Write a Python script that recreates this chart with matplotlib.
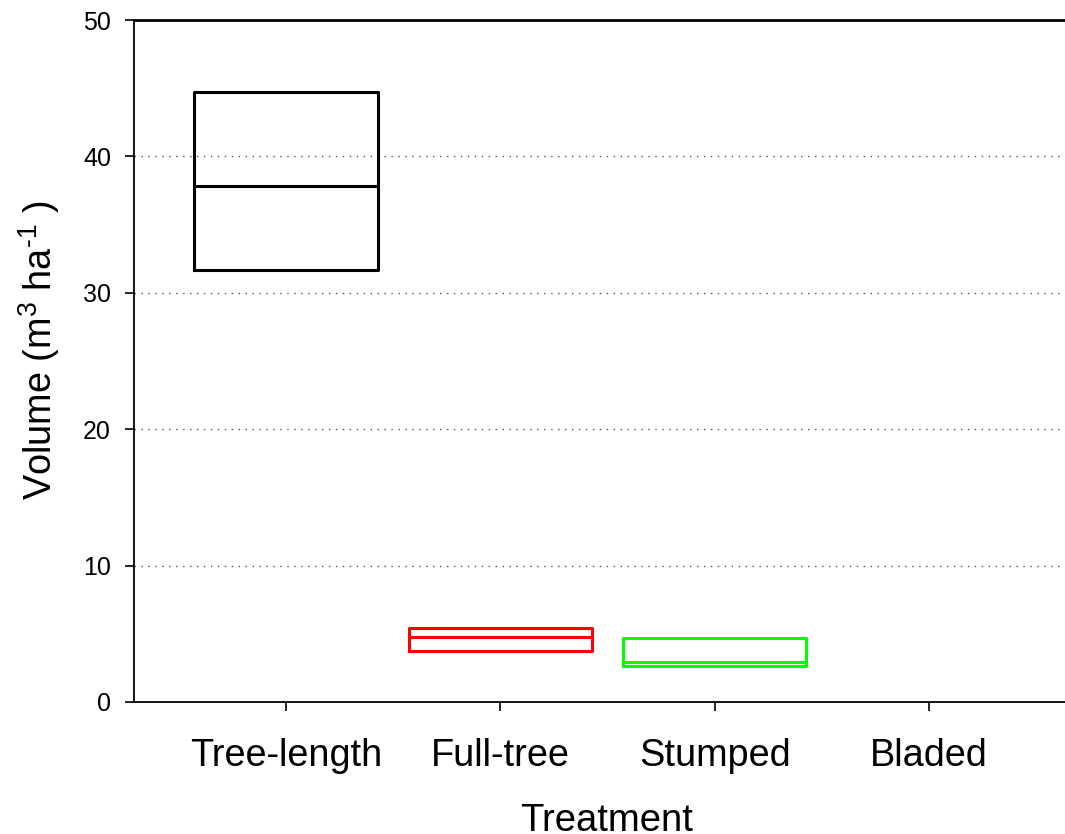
import matplotlib
matplotlib.use("Agg")
import matplotlib.pyplot as plt

plt.rcParams['font.family'] = ['Liberation Sans', 'DejaVu Sans']
plt.rcParams['mathtext.fontset'] = 'custom'
plt.rcParams['mathtext.rm'] = 'Liberation Sans'
plt.rcParams['mathtext.it'] = 'Liberation Sans'
plt.rcParams['mathtext.default'] = 'regular'

categories = ["Tree-length", "Full-tree", "Stumped", "Bladed"]
q1_values = [31.7, 3.75, 2.62, None]
median_values = [37.8, 4.77, 2.93, None]
q3_values = [44.7, 5.45, 4.68, None]
box_colors = ["#000000", "#ff0000", "#00ff00", "#0000ff"]

fig = plt.figure(figsize=(10.65, 8.34), dpi=100)
ax = fig.add_axes([0.1258, 0.1583, 0.8742, 0.8177])

positions = list(range(len(categories)))
for pos, q1, med, q3, col in zip(positions, q1_values, median_values, q3_values, box_colors):
    if q1 is None:
        continue
    stats = [dict(med=med, q1=q1, q3=q3, whislo=q1, whishi=q3, fliers=[])]
    ax.bxp(stats, positions=[pos], widths=0.855, showcaps=False, showfliers=False,
           boxprops=dict(color=col, linewidth=2.2),
           medianprops=dict(color=col, linewidth=2.2),
           whiskerprops=dict(color=col, linewidth=0))

ax.set_xlim(-0.709, 3.635)
ax.set_ylim(0, 50)
ax.set_xticks(positions)
ax.set_xticklabels(categories)
ax.set_yticks([0, 10, 20, 30, 40, 50])
ax.tick_params(axis='y', labelsize=18, length=6.5, width=1.2, pad=10, direction='out')
ax.tick_params(axis='x', labelsize=27.3, length=6.5, width=1.2, pad=19.5, direction='out')

for y in [10, 20, 30, 40]:
    ax.axhline(y, color='#555555', linestyle=(0, (1, 4)), linewidth=1.0, zorder=0)

ax.spines['right'].set_visible(False)
ax.spines['top'].set_linewidth(2.0)
ax.spines['left'].set_linewidth(1.3)
ax.spines['bottom'].set_linewidth(1.3)

ax.set_xlabel("Treatment", fontsize=27.5, labelpad=21)
ax.xaxis.label.set_x(0.508)
ax.set_ylabel("Volume (m$^3$ ha$^{\\text{-}1}$ )", fontsize=27.3, labelpad=15)
ax.yaxis.label.set_y(0.516)

fig.savefig("out.png", dpi=100)
